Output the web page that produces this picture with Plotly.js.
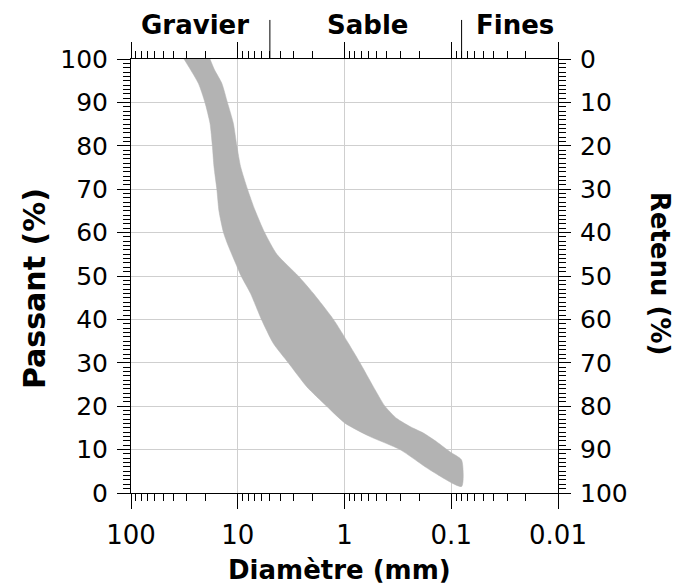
<!DOCTYPE html>
<html><head><meta charset="utf-8">
<script src="https://cdn.plot.ly/plotly-3.0.1.min.js"></script>
<style>html,body{margin:0;padding:0;background:#fff}#chart{width:675px;height:587px}</style>
</head><body><div id="chart"></div>
<script>
// Upper (fine) limit curve of the grading envelope: diameter (mm) vs passing (%)
const fineDiam = [18.2, 16.5, 14.1, 12.5, 11.0, 10.2, 9.4, 8.1, 6.9, 5.6, 4.3, 2.71, 1.96, 1.27, 0.92, 0.716, 0.537, 0.418, 0.325, 0.243, 0.182, 0.137, 0.103, 0.080];
const finePass = [100, 97.5, 94.4, 90, 85.2, 80, 75.2, 70, 65.2, 60, 55, 50, 46, 40, 34.5, 30, 24.5, 20, 17.2, 15.3, 13.8, 11.8, 9.5, 7.6];
// Lower (coarse) limit curve
const coarseDiam = [31.9, 23.4, 20.3, 18.2, 17.3, 16.7, 15.7, 15.0, 13.6, 12.3, 10.5, 9.3, 7.6, 6.0, 4.65, 3.36, 2.26, 1.47, 0.99, 0.577, 0.302, 0.158, 0.080];
const coarsePass = [100, 94.4, 90, 85.2, 80, 75.2, 70, 65, 60, 57, 53, 50, 46, 40, 34.5, 30, 24.5, 20, 16.1, 13, 10, 5.3, 1.5];

const xTickVals = [100, 10, 1, 0.1, 0.01];
const xTickText = ['100', '10', '1', '0.1', '0.01'];
const passTicks = [0, 10, 20, 30, 40, 50, 60, 70, 80, 90, 100];
const retenuTicks = [0, 10, 20, 30, 40, 50, 60, 70, 80, 90, 100];
const zoneNames = ['Gravier', 'Sable', 'Fines'];
const zoneLabelDiam = [25, 0.615, 0.0253];
const zoneBounds = [5, 0.08];

// closed envelope: fine curve downwards, then coarse curve back upwards
const bandX = fineDiam.concat(coarseDiam.slice().reverse());
const bandY = finePass.concat(coarsePass.slice().reverse());

const logMinor = [];
for (let k = -2; k <= 1; k++) for (let m = 2; m <= 9; m++) logMinor.push(m * Math.pow(10, k));

const FONT = 'DejaVu Sans, Liberation Sans, Arial, sans-serif';
const GRID = '#cfcfcf';
const BAND = '#b3b3b3';

const traces = [
  {type: 'scatter', x: bandX, y: bandY, mode: 'lines', fill: 'toself', fillcolor: BAND,
   line: {width: 0.5, color: BAND, shape: 'spline', smoothing: 0.6}, hoverinfo: 'skip', showlegend: false},
  {type: 'scatter', x: [], y: [], xaxis: 'x2', yaxis: 'y2', showlegend: false, hoverinfo: 'skip'}
];

const minorLog = {tickmode: 'array', tickvals: logMinor, ticks: 'outside', ticklen: 7, tickcolor: '#000', tickwidth: 1, showgrid: false};
const minorLin = {dtick: 1, ticks: 'outside', ticklen: 7, tickcolor: '#000', tickwidth: 1, showgrid: false};

const layout = {
  width: 675, height: 587,
  margin: {l: 131, r: 117, t: 59, b: 94},
  paper_bgcolor: '#fff', plot_bgcolor: '#fff',
  font: {family: FONT, color: '#000'},
  showlegend: false,
  xaxis: {type: 'log', range: [2, -2], autorange: false, tickmode: 'array', tickvals: xTickVals, ticktext: xTickText,
    ticks: 'outside', ticklen: 15, tickcolor: '#000', tickwidth: 1, showgrid: true, gridcolor: GRID, gridwidth: 1,
    showline: true, linecolor: '#000', linewidth: 1, zeroline: false, tickfont: {size: 26, family: FONT},
    ticklabelstandoff: 4, minor: minorLog, fixedrange: true},
  xaxis2: {type: 'log', range: [2, -2], autorange: false, overlaying: 'x', side: 'top', tickmode: 'array', tickvals: xTickVals,
    ticks: 'outside', ticklen: 16, tickcolor: '#000', showticklabels: false, showgrid: false,
    showline: true, linecolor: '#000', linewidth: 1, zeroline: false, minor: minorLog, fixedrange: true},
  yaxis: {range: [0, 100], autorange: false, tickmode: 'array', tickvals: passTicks, ticktext: passTicks.map(String),
    ticks: 'outside', ticklen: 13, tickcolor: '#000', showgrid: true, gridcolor: GRID, gridwidth: 1,
    showline: true, linecolor: '#000', linewidth: 1, zeroline: false, tickfont: {size: 25, family: FONT},
    ticklabelstandoff: 4, minor: minorLin, fixedrange: true},
  yaxis2: {range: [100, 0], autorange: false, overlaying: 'y', side: 'right', tickmode: 'array', tickvals: retenuTicks, ticktext: retenuTicks.map(String),
    ticks: 'outside', ticklen: 12, tickcolor: '#000', showgrid: false,
    showline: true, linecolor: '#000', linewidth: 1, zeroline: false, tickfont: {size: 25, family: FONT},
    ticklabelstandoff: 4, minor: minorLin, fixedrange: true},
  shapes: zoneBounds.map(b => ({type: 'line', xref: 'x', yref: 'paper', x0: b, x1: b,
    y0: 1, y1: 1.09, line: {color: '#000', width: 1}})),
  annotations: zoneNames.map((n, i) => ({text: '<b>' + n + '</b>', xref: 'x', yref: 'paper', x: Math.log10(zoneLabelDiam[i]), y: 1.078,
      showarrow: false, xanchor: 'center', yanchor: 'middle', font: {size: 26, family: FONT}})).concat([
    {text: '<b>Diamètre (mm)</b>', xref: 'paper', yref: 'paper', x: 0.489, y: -0.177, showarrow: false,
     xanchor: 'center', yanchor: 'middle', font: {size: 26, family: FONT}},
    {text: '<b>Passant (%)</b>', xref: 'paper', yref: 'paper', x: -0.227, y: 0.47, showarrow: false, textangle: -90,
     xanchor: 'center', yanchor: 'middle', font: {size: 30, family: FONT}},
    {text: '<b>Retenu (%)</b>', xref: 'paper', yref: 'paper', x: 1.239, y: 0.505, showarrow: false, textangle: 90,
     xanchor: 'center', yanchor: 'middle', font: {size: 26, family: FONT}}
  ])
};

Plotly.newPlot('chart', traces, layout, {staticPlot: true, displayModeBar: false});
</script></body></html>
